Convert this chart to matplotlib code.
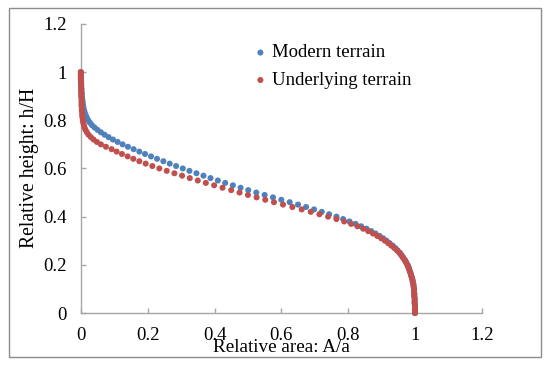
import numpy as np
import matplotlib
matplotlib.use("Agg")
import matplotlib.pyplot as plt
from matplotlib.patches import Rectangle

plt.rcParams['font.family'] = ['Liberation Serif', 'DejaVu Serif']

# relative height levels h/H
h_levels = [0.00, 0.01, 0.02, 0.03, 0.04, 0.05, 0.06, 0.07, 0.08, 0.09,
            0.10, 0.11, 0.12, 0.13, 0.14, 0.15, 0.16, 0.17, 0.18, 0.19,
            0.20, 0.21, 0.22, 0.23, 0.24, 0.25, 0.26, 0.27, 0.28, 0.29,
            0.30, 0.31, 0.32, 0.33, 0.34, 0.35, 0.36, 0.37, 0.38, 0.39,
            0.40, 0.41, 0.42, 0.43, 0.44, 0.45, 0.46, 0.47, 0.48, 0.49,
            0.50, 0.51, 0.52, 0.53, 0.54, 0.55, 0.56, 0.57, 0.58, 0.59,
            0.60, 0.61, 0.62, 0.63, 0.64, 0.65, 0.66, 0.67, 0.68, 0.69,
            0.70, 0.71, 0.72, 0.73, 0.74, 0.75, 0.76, 0.77, 0.78, 0.79,
            0.80, 0.81, 0.82, 0.83, 0.84, 0.85, 0.86, 0.87, 0.88, 0.89,
            0.90, 0.91, 0.92, 0.93, 0.94, 0.95, 0.96, 0.97, 0.98, 0.99,
            1.00]

# relative area A/a above each level
modern_area = [1.000, 1.000, 1.000, 1.000, 0.999, 0.999, 0.999, 0.998, 0.998, 0.997,
               0.997, 0.996, 0.995, 0.994, 0.992, 0.990, 0.988, 0.986, 0.983, 0.981,
               0.978, 0.974, 0.970, 0.965, 0.960, 0.955, 0.948, 0.941, 0.933, 0.924,
               0.915, 0.905, 0.894, 0.882, 0.869, 0.855, 0.839, 0.822, 0.804, 0.785,
               0.765, 0.743, 0.721, 0.698, 0.674, 0.650, 0.625, 0.600, 0.575, 0.550,
               0.525, 0.501, 0.478, 0.455, 0.432, 0.410, 0.388, 0.367, 0.346, 0.325,
               0.305, 0.285, 0.266, 0.247, 0.228, 0.210, 0.192, 0.175, 0.158, 0.141,
               0.125, 0.110, 0.096, 0.083, 0.071, 0.060, 0.050, 0.041, 0.033, 0.027,
               0.022, 0.018, 0.015, 0.012, 0.010, 0.008, 0.007, 0.006, 0.005, 0.004,
               0.003, 0.003, 0.002, 0.002, 0.001, 0.001, 0.001, 0.000, 0.000, 0.000,
               0.000]

underlying_area = [1.000, 1.000, 1.000, 1.000, 0.999, 0.999, 0.999, 0.998, 0.998, 0.997,
                   0.997, 0.996, 0.995, 0.993, 0.992, 0.990, 0.988, 0.985, 0.983, 0.980,
                   0.977, 0.973, 0.969, 0.964, 0.959, 0.953, 0.946, 0.938, 0.929, 0.920,
                   0.910, 0.899, 0.887, 0.874, 0.860, 0.845, 0.828, 0.809, 0.788, 0.765,
                   0.740, 0.714, 0.688, 0.661, 0.633, 0.605, 0.578, 0.552, 0.526, 0.500,
                   0.475, 0.450, 0.424, 0.399, 0.374, 0.350, 0.326, 0.303, 0.280, 0.257,
                   0.235, 0.214, 0.194, 0.175, 0.157, 0.140, 0.123, 0.107, 0.092, 0.075,
                   0.060, 0.048, 0.038, 0.030, 0.023, 0.018, 0.014, 0.011, 0.009, 0.007,
                   0.006, 0.005, 0.004, 0.004, 0.003, 0.003, 0.002, 0.002, 0.002, 0.002,
                   0.001, 0.001, 0.001, 0.001, 0.001, 0.001, 0.000, 0.000, 0.000, 0.000,
                   0.000]

xticks = [0, 0.2, 0.4, 0.6, 0.8, 1, 1.2]
yticks = [0, 0.2, 0.4, 0.6, 0.8, 1, 1.2]
tick_labels = ['0', '0.2', '0.4', '0.6', '0.8', '1', '1.2']

blue = '#4f81bd'
red = '#c0504d'
grey = '#a6a6a6'
fs = 13.5

fig = plt.figure(figsize=(5.5, 3.67), dpi=100)
ax = fig.add_axes([0.147, 0.147, 0.729, 0.788])

ax.scatter(modern_area, h_levels, s=19, color=blue, edgecolors='none',
           label='Modern terrain', clip_on=False, zorder=3)
ax.scatter(underlying_area, h_levels, s=19, color=red, edgecolors='none',
           label='Underlying terrain', clip_on=False, zorder=4)

ax.set_xlim(0, 1.2)
ax.set_ylim(0, 1.2)
ax.set_xticks(xticks)
ax.set_xticklabels(tick_labels)
ax.set_yticks(yticks)
ax.set_yticklabels(tick_labels)

for s in ['top', 'right']:
    ax.spines[s].set_visible(False)
for s in ['left', 'bottom']:
    ax.spines[s].set_color(grey)
    ax.spines[s].set_linewidth(1.0)
ax.tick_params(direction='in', length=3.6, width=1.0, color=grey,
               labelsize=fs, pad=10, labelcolor='black')

fig.text(281 / 550, 1 - 348 / 367, 'Relative area: A/a', fontsize=fs + 0.3,
         ha='center', va='center')
fig.text(30 / 550, 1 - 168 / 367, 'Relative height: h/H', fontsize=fs + 0.7,
         ha='center', va='center', rotation=90)

ax.legend(loc='upper left', bbox_to_anchor=(0.415, 0.955), frameon=False,
          fontsize=fs, handlelength=0.6, handletextpad=0.3,
          labelspacing=0.55, scatterpoints=1, borderaxespad=0)

fig.add_artist(Rectangle((9 / 550, 1 - 357 / 367), 532 / 550, 349 / 367,
                         transform=fig.transFigure, fill=False,
                         edgecolor='#8c8c8c', linewidth=1.0))

fig.savefig('out.png', dpi=100)
